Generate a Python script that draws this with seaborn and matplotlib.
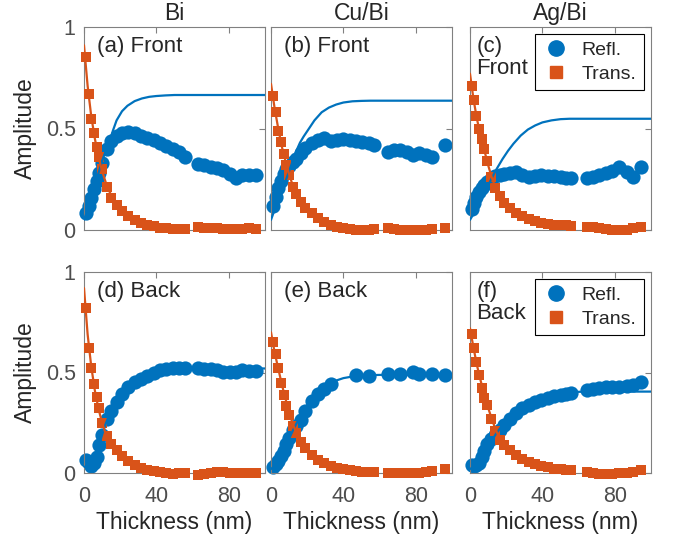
import numpy as np
import matplotlib
matplotlib.use('Agg')
import matplotlib.pyplot as plt
import seaborn as sns
from matplotlib.lines import Line2D

# ── Style ───────────────────────────────────────────────────
sns.set_theme(style='white')
plt.rcParams['font.family'] = ['Liberation Sans', 'DejaVu Sans']

BLUE = '#0072BD'
ORANGE = '#D95319'
TICK_GRAY = '#4d4d4d'
SPINE_GRAY = '#808080'

nan = np.nan

# ── Data: measured points ───────────────────────────────────
x_bi = [1, 2.5, 4, 5.5, 7, 8.5, 10, 12.5, 15, 18, 21, 24.5, 28, 31.5, 35, 38.5,
        42, 45.5, 49, 52.5, 56, 63, 66.5, 70, 73.5, 77, 80.5, 84, 87.5, 91, 95]
bi_front_r = [0.085, 0.12, 0.16, 0.20, 0.24, 0.28, 0.33, 0.40, 0.44, 0.465, 0.48,
              0.485, 0.476, 0.465, 0.452, 0.443, 0.43, 0.415, 0.40, 0.385, 0.36,
              0.325, 0.318, 0.312, 0.305, 0.296, 0.275, 0.258, 0.27, 0.272, 0.27]
bi_front_t = [0.854, 0.67, 0.545, 0.476, 0.41, 0.36, 0.30, 0.21, 0.16, 0.125, 0.095,
              0.07, 0.05, 0.035, 0.025, 0.018, 0.012, 0.008, 0.006, 0.005, 0.007,
              0.013, 0.012, 0.01, 0.008, 0.006, 0.005, 0.005, 0.006, 0.008, 0.006]
bi_back_r = [0.065, 0.05, 0.035, 0.05, 0.08, 0.14, 0.19, 0.27, 0.31, 0.355, 0.395,
             0.43, 0.455, 0.47, 0.485, 0.497, 0.51, 0.518, 0.52, 0.52, 0.52,
             0.52, 0.518, 0.515, 0.51, 0.503, 0.503, 0.503, 0.51, 0.508, 0.505]
bi_back_t = [0.82, 0.62, 0.52, 0.445, 0.38, 0.325, 0.25, 0.185, 0.145, 0.113, 0.087,
             0.06, 0.042, 0.025, 0.015, 0.008, 0.003, 0.0, -0.003, -0.002, 0.0,
             -0.008, -0.003, 0.0, 0.003, 0.003, 0.002, 0.002, 0.002, 0.0, 0.0]

x_cu = [1, 2.5, 4, 5.5, 7, 8.5, 10, 12, 14, 16.5, 19, 22.5, 26, 29.5, 33, 36.5,
        40, 43.5, 47, 50.5, 54, 57, 64.5, 68, 71.5, 75, 78.5, 82, 85.5, 89, 96]
cu_front_r = [0.12, 0.165, 0.205, 0.24, 0.275, 0.30, 0.315, 0.335, 0.352, 0.38, 0.402,
              0.427, 0.445, 0.452, 0.438, 0.443, 0.446, 0.443, 0.44, 0.435, 0.428,
              0.42, 0.386, 0.394, 0.394, 0.386, 0.37, 0.378, 0.37, 0.36, 0.42]
cu_front_t = [0.66, 0.58, 0.49, 0.435, 0.375, 0.32, 0.27, 0.21, 0.175, 0.14, 0.11,
              0.082, 0.06, 0.04, 0.027, 0.016, 0.008, 0.004, 0.002, 0.001, 0.002,
              0.003, 0.008, 0.005, 0.002, 0.0, 0.0, 0.0, 0.002, 0.004, 0.008]
cu_back_r = [0.031, 0.045, 0.06, 0.085, 0.11, 0.145, 0.175, 0.215, 0.235, 0.265, 0.31,
             0.36, 0.395, 0.42, 0.445, nan, nan, nan, 0.488, nan, 0.483,
             nan, 0.495, nan, 0.495, nan, 0.503, 0.495, nan, 0.492, 0.487]
cu_back_t = [0.65, 0.59, 0.52, 0.45, 0.39, 0.335, 0.29, 0.235, 0.2, 0.152, 0.122,
             0.088, 0.066, 0.048, 0.036, 0.027, 0.02, 0.013, 0.01, 0.007, 0.007,
             0.006, 0.0, 0.0, -0.002, -0.002, 0.0, 0.002, 0.007, 0.012, 0.018]

x_ag = [1, 2, 3.5, 5, 6.5, 8, 9.5, 11.5, 14, 16.5, 19, 22, 25.5, 29, 32.5, 36,
        39.5, 43, 46.5, 50, 53, 56, 64.5, 68, 71.5, 75, 78.5, 82.5, 86.5, 90, 94.5]
ag_front_r = [0.105, 0.135, 0.162, 0.185, 0.205, 0.222, 0.238, 0.252, 0.264, 0.272, 0.278,
              0.283, 0.287, 0.272, 0.259, 0.266, 0.27, 0.266, 0.265, 0.26, 0.258,
              0.254, 0.258, 0.263, 0.27, 0.283, 0.29, 0.312, 0.285, 0.263, 0.312]
ag_front_t = [0.71, 0.64, 0.56, 0.50, 0.45, 0.40, 0.34, 0.26, 0.205, 0.168, 0.135,
              0.107, 0.084, 0.067, 0.052, 0.042, 0.035, 0.031, 0.027, 0.025, 0.023,
              0.021, 0.016, 0.013, 0.008, 0.003, 0.0, 0.0, 0.0, 0.008, 0.016]
ag_back_r = [0.04, 0.035, 0.038, 0.052, 0.08, 0.11, 0.145, 0.17, 0.19, 0.215, 0.237,
             0.27, 0.30, 0.322, 0.336, 0.352, 0.365, 0.375, 0.383, 0.389, 0.394,
             0.40, 0.412, 0.42, 0.424, 0.427, 0.43, 0.43, 0.435, 0.44, 0.454]
ag_back_t = [0.69, 0.62, 0.55, 0.49, 0.425, 0.375, 0.34, 0.27, 0.21, 0.165, 0.14,
             0.113, 0.088, 0.07, 0.055, 0.044, 0.035, 0.028, 0.021, 0.018, 0.016,
             0.015, 0.007, 0.0, -0.003, -0.003, -0.003, -0.002, 0.0, 0.007, 0.015]

# ── Data: fit curves ────────────────────────────────────────
fit_x = [0, 2, 4, 6, 8, 10, 12, 14, 16, 18, 21, 24, 28, 32, 36, 40, 45, 50, 55, 60, 80, 100]
fit_a_r = [0.05, 0.10, 0.155, 0.215, 0.28, 0.34, 0.39, 0.435, 0.49, 0.54, 0.585,
           0.612, 0.635, 0.648, 0.656, 0.66, 0.663, 0.665, 0.665, 0.665, 0.665, 0.665]
fit_a_t = [0.91, 0.71, 0.56, 0.45, 0.36, 0.29, 0.235, 0.19, 0.155, 0.125, 0.09,
           0.068, 0.045, 0.03, 0.02, 0.013, 0.008, 0.005, 0.003]
fit_b_r = [0.05, 0.10, 0.145, 0.195, 0.24, 0.29, 0.34, 0.39, 0.43, 0.46, 0.50,
           0.54, 0.58, 0.603, 0.618, 0.628, 0.634, 0.636, 0.637, 0.637, 0.637, 0.637]
fit_b_t = [0.72, 0.6, 0.5, 0.41, 0.34, 0.275, 0.22, 0.18, 0.145, 0.12, 0.09,
           0.068, 0.047, 0.032, 0.02, 0.012, 0.007, 0.004, 0.002]
fit_c_r = [0.05, 0.08, 0.115, 0.15, 0.185, 0.22, 0.255, 0.29, 0.32, 0.35, 0.39,
           0.425, 0.465, 0.495, 0.515, 0.53, 0.54, 0.546, 0.548, 0.548, 0.548, 0.548]
fit_c_t = [0.77, 0.64, 0.54, 0.46, 0.39, 0.32, 0.26, 0.21, 0.175, 0.145, 0.115,
           0.09, 0.07, 0.055, 0.044, 0.036, 0.03, 0.026, 0.022]
fit_d_r = [0.03, 0.035, 0.05, 0.08, 0.13, 0.19, 0.245, 0.29, 0.33, 0.36, 0.40,
           0.43, 0.46, 0.48, 0.495, 0.505, 0.513, 0.517, 0.519, 0.52, 0.52, 0.52]
fit_d_t = [0.92, 0.69, 0.53, 0.41, 0.32, 0.25, 0.195, 0.155, 0.125, 0.10, 0.075,
           0.056, 0.038, 0.025, 0.015, 0.008, 0.003, 0.0, 0.0]
fit_e_r = [0.02, 0.035, 0.055, 0.085, 0.125, 0.17, 0.21, 0.245, 0.28, 0.31, 0.35,
           0.385, 0.42, 0.443, 0.46, 0.472, 0.48, 0.485, 0.487, 0.488, 0.488, 0.488]
fit_e_t = [0.70, 0.60, 0.52, 0.44, 0.37, 0.30, 0.245, 0.20, 0.165, 0.135, 0.105,
           0.08, 0.058, 0.04, 0.028, 0.02, 0.012, 0.007, 0.005]
fit_f_r = [0.02, 0.03, 0.045, 0.07, 0.10, 0.13, 0.16, 0.19, 0.215, 0.24, 0.27,
           0.30, 0.325, 0.345, 0.362, 0.376, 0.388, 0.396, 0.401, 0.404, 0.405, 0.405]
fit_f_t = [0.72, 0.62, 0.53, 0.455, 0.39, 0.325, 0.27, 0.22, 0.18, 0.15, 0.118,
           0.095, 0.075, 0.058, 0.045, 0.035, 0.026, 0.02, 0.015]

col_titles = ['Bi', 'Cu/Bi', 'Ag/Bi']
panel_labels = ['(a) Front', '(b) Front', '(c)\nFront', '(d) Back', '(e) Back', '(f)\nBack']

panels = [
    (x_bi, bi_front_r, bi_front_t, fit_a_r, fit_a_t),
    (x_cu, cu_front_r, cu_front_t, fit_b_r, fit_b_t),
    (x_ag, ag_front_r, ag_front_t, fit_c_r, fit_c_t),
    (x_bi, bi_back_r, bi_back_t, fit_d_r, fit_d_t),
    (x_cu, cu_back_r, cu_back_t, fit_e_r, fit_e_t),
    (x_ag, ag_back_r, ag_back_t, fit_f_r, fit_f_t),
]

# ── Figure layout (pixel boxes of the original) ─────────────
W, H = 675, 544
fig = plt.figure(figsize=(W / 100, H / 100), dpi=100)
lefts = [84, 271, 470]
rows = [(27, 230), (272, 473)]
axw = 181

for i, (x, r, t, fr, ft) in enumerate(panels):
    row, col = divmod(i, 3)
    top, bot = rows[row]
    ax = fig.add_axes([lefts[col] / W, 1 - bot / H, axw / W, (bot - top) / H])

    sns.scatterplot(x=x, y=r, ax=ax, marker='o', s=105, color=BLUE,
                    edgecolor=BLUE, linewidth=0, clip_on=False, zorder=2)
    sns.scatterplot(x=x, y=t, ax=ax, marker='s', s=52, color=ORANGE,
                    edgecolor=ORANGE, linewidth=0, clip_on=False, zorder=3)
    sns.lineplot(x=fit_x, y=fr, ax=ax, color=BLUE, linewidth=1.6, zorder=4)
    sns.lineplot(x=fit_x[:len(ft)], y=ft, ax=ax, color=ORANGE, linewidth=1.6, zorder=4)

    ax.set_xlim(0, 100)
    ax.set_ylim(0, 1)
    ax.set_xticks([0, 40, 80])
    ax.set_yticks([0, 0.5, 1])
    ax.set_yticklabels(['0', '0.5', '1'])
    ax.tick_params(axis='both', direction='in', length=4, width=0.8, color=SPINE_GRAY,
                   labelsize=15.5, labelcolor=TICK_GRAY, top=True, right=True,
                   labelbottom=(row == 1), labelleft=(col == 0))
    ax.tick_params(axis='x', pad=9)
    ax.tick_params(axis='y', pad=6)
    for sp in ax.spines.values():
        sp.set_color(SPINE_GRAY)
        sp.set_linewidth(0.8)
    ax.set_xlabel('Thickness (nm)' if row == 1 else '', fontsize=16.5, labelpad=3)
    ax.set_ylabel('Amplitude' if col == 0 else '', fontsize=16.5, labelpad=6)
    if row == 0:
        ax.set_title(col_titles[col], fontsize=16.5, pad=5)
    # two-line labels sit closer to the left edge, next to the legend
    lx = 0.035 if col == 2 else 0.07
    ax.text(lx, 0.955, panel_labels[i], transform=ax.transAxes, fontsize=16,
            va='top', ha='left', linespacing=1.05, zorder=5)

    if col == 2:
        handles = [Line2D([], [], ls='none', marker='o', ms=11, color=BLUE),
                   Line2D([], [], ls='none', marker='s', ms=8.5, color=ORANGE)]
        leg = ax.legend(handles, ['Refl.', 'Trans.'], loc='upper right', fontsize=14,
                        frameon=True, fancybox=False, edgecolor='black', framealpha=1,
                        borderaxespad=0.35, borderpad=0.4, handlelength=1.4,
                        handletextpad=0.6, labelspacing=0.3)
        leg.get_frame().set_linewidth(0.8)

fig.savefig('out.png', dpi=100)
